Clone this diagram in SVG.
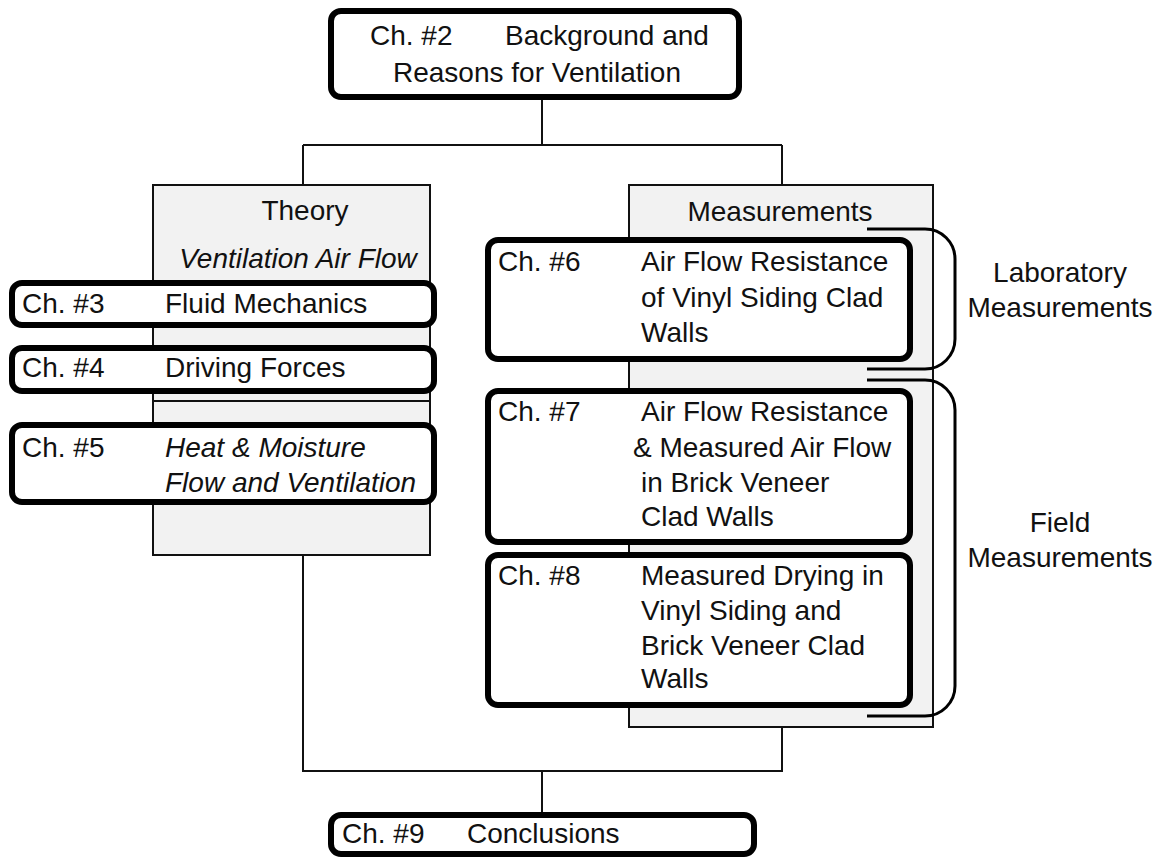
<svg xmlns="http://www.w3.org/2000/svg" width="1162" height="859" viewBox="0 0 1162 859">
<style>
text{font-family:"Liberation Sans",Arial,sans-serif;font-size:28px;fill:#111}
.it{font-style:italic}
.mid{text-anchor:middle}
.box{fill:#fff;stroke:#000;stroke-width:6}
.panel{fill:#f2f2f2;stroke:#111;stroke-width:2}
.conn{fill:none;stroke:#111;stroke-width:2}
.brace{fill:none;stroke:#000;stroke-width:3}
</style>
<rect width="1162" height="859" fill="#fff"/>
<g id="connectors">
<path class="conn" d="M542,100 V145 M303,145 H782 M303,145 V185 M782,145 V185"/>
<path class="conn" d="M303,555 V771 H782 V727 M542,771 V812"/>
</g>
<g id="theory">
<rect class="panel" x="153" y="185" width="277" height="370"/>
<line class="conn" x1="153" y1="401" x2="430" y2="401"/>
<text class="mid" x="305" y="220">Theory</text>
<text class="mid it" x="298" y="268">Ventilation Air Flow</text>
</g>
<g id="measurements">
<rect class="panel" x="629" y="185" width="304" height="542"/>
<text class="mid" x="780" y="221">Measurements</text>
</g>
<g id="ch2">
<rect class="box" x="331" y="11" width="408" height="86" rx="10"/>
<text x="370" y="45">Ch. #2</text>
<text x="505" y="45">Background and</text>
<text x="393" y="82">Reasons for Ventilation</text>
</g>
<g id="ch3">
<rect class="box" x="12" y="283" width="422" height="42" rx="10"/>
<text x="22" y="313">Ch. #3</text>
<text x="165" y="313">Fluid Mechanics</text>
</g>
<g id="ch4">
<rect class="box" x="12" y="348" width="422" height="43" rx="10"/>
<text x="22" y="377">Ch. #4</text>
<text x="165" y="377">Driving Forces</text>
</g>
<g id="ch5">
<rect class="box" x="12" y="425" width="422" height="77" rx="10"/>
<text x="22" y="457">Ch. #5</text>
<text class="it" x="165" y="457">Heat &amp; Moisture</text>
<text class="it" x="165" y="492">Flow and Ventilation</text>
</g>
<g id="ch6">
<rect class="box" x="488" y="240" width="422" height="119" rx="10"/>
<text x="498" y="271">Ch. #6</text>
<text x="641" y="271">Air Flow Resistance</text>
<text x="641" y="307">of Vinyl Siding Clad</text>
<text x="641" y="342">Walls</text>
</g>
<g id="ch7">
<rect class="box" x="488" y="391" width="422" height="151" rx="10"/>
<text x="498" y="421">Ch. #7</text>
<text x="641" y="421">Air Flow Resistance</text>
<text x="633" y="457">&amp; Measured Air Flow</text>
<text x="641" y="492">in Brick Veneer</text>
<text x="641" y="526">Clad Walls</text>
</g>
<g id="ch8">
<rect class="box" x="488" y="555" width="422" height="150" rx="10"/>
<text x="498" y="585">Ch. #8</text>
<text x="641" y="585">Measured Drying in</text>
<text x="641" y="620">Vinyl Siding and</text>
<text x="641" y="655">Brick Veneer Clad</text>
<text x="641" y="688">Walls</text>
</g>
<g id="ch9">
<rect class="box" x="331" y="815" width="423" height="39" rx="10"/>
<text x="342" y="843">Ch. #9</text>
<text x="467" y="843">Conclusions</text>
</g>
<g id="lab">
<path class="brace" d="M867,229 H925 A30,30 0 0 1 955,259 V339 A30,30 0 0 1 925,369 H867"/>
<text class="mid" x="1060" y="282">Laboratory</text>
<text class="mid" x="1060" y="317">Measurements</text>
</g>
<g id="field">
<path class="brace" d="M867,380 H925 A30,30 0 0 1 955,410 V686 A30,30 0 0 1 925,716 H867"/>
<text class="mid" x="1060" y="532">Field</text>
<text class="mid" x="1060" y="567">Measurements</text>
</g>
</svg>
